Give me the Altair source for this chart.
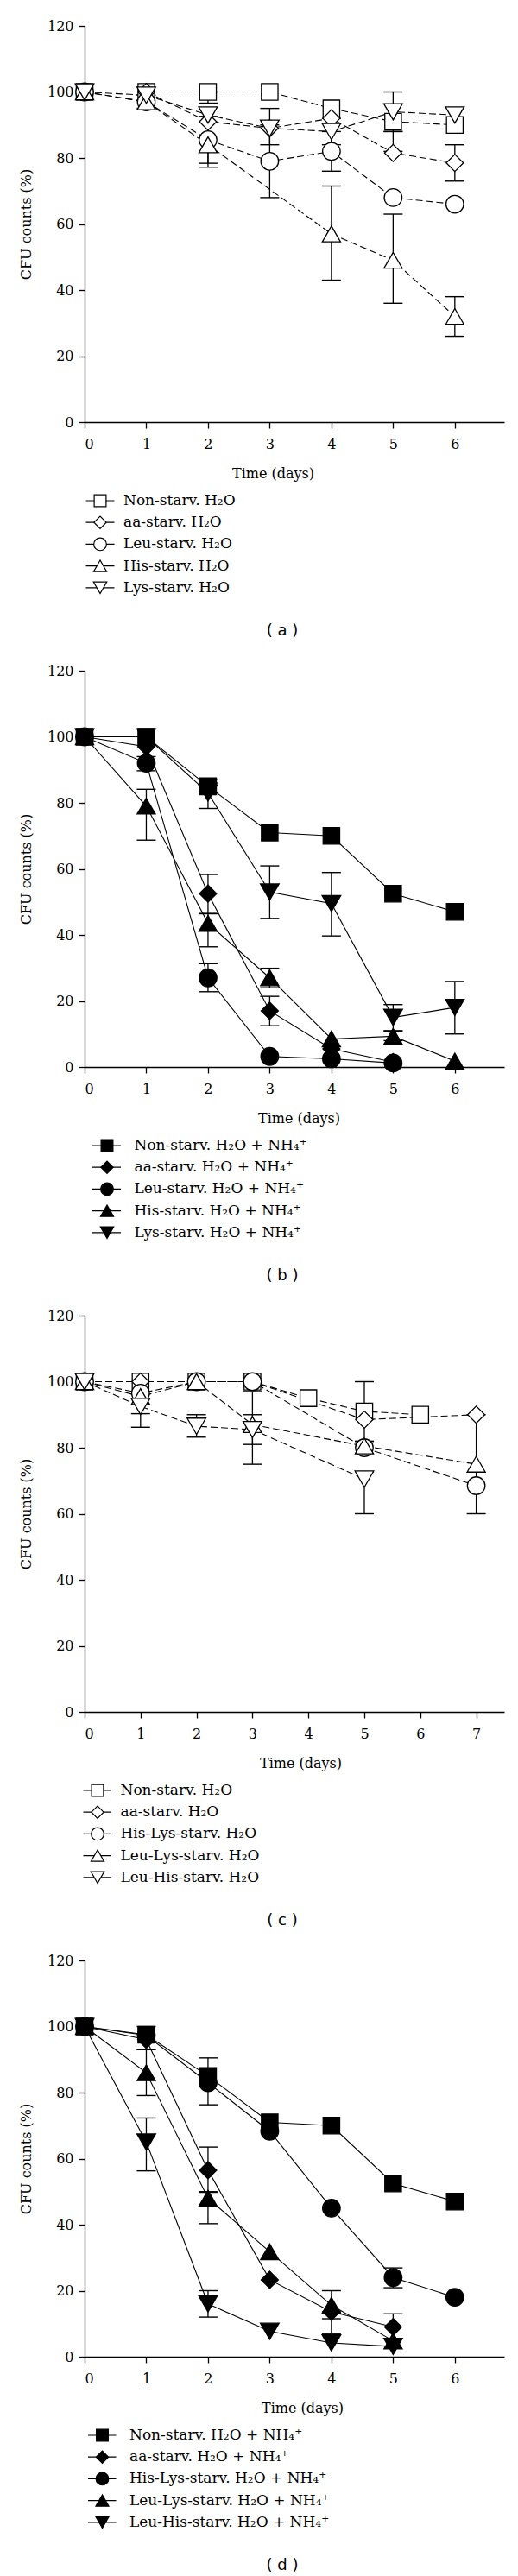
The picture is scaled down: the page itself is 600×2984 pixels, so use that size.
import altair as alt
import pandas as pd

# ---------------- data ----------------
SHAPES = ["square", "diamond", "circle", "triangle-up", "triangle-down"]

# Panel (a): water, single amino-acid starvation (days 0..6)
A_SERIES = ["Non-starv. H₂O", "aa-starv. H₂O", "Leu-starv. H₂O", "His-starv. H₂O", "Lys-starv. H₂O"]
A_NON = [100, 100, 100, 100, 95, 91, 90]
A_AA = [100, 100, 91, 89, 92, 81.5, 78.5]
A_LEU = [100, 97, 85.5, 79, 82, 68, 66]
A_HIS = [100, 97, 84, None, 57, 49, 32]
A_LYS = [100, 99, 93, 89, 88, 94, 93]
A_ERR = [  # (series index, day, low, high)
    (2, 1, 95, 99), (0, 2, 96.6, 100), (3, 2, 77.2, 90.8), (2, 2, 78.4, 92.6),
    (2, 3, 68, 90), (4, 3, 84, 95), (2, 4, 76, 88), (3, 4, 43, 71.5), (1, 4, 84, 92),
    (4, 5, 88, 100), (3, 5, 36, 63), (1, 5, 82, 88), (1, 6, 73, 84), (3, 6, 26, 38),
]

# Panel (b): water + NH4+, single amino-acid starvation (days 0..6)
B_SERIES = ["Non-starv. H₂O + NH₄⁺", "aa-starv. H₂O + NH₄⁺", "Leu-starv. H₂O + NH₄⁺",
            "His-starv. H₂O + NH₄⁺", "Lys-starv. H₂O + NH₄⁺"]
B_NON = [100, 100, 85, 71, 70, 52.5, 47]
B_AA = [100, 97, 52.5, 17, 5.5, 1.5, None]
B_LEU = [100, 92, 27, 3.2, 2.5, 1.2, None]
B_HIS = [100, 79, 43.5, 27, 8.5, 9.3, 1.8]
B_LYS = [100, 100, 83, 53, 49.5, 15, 18]
B_ERR = [
    (3, 1, 68.7, 84.1), (2, 1, 89.7, 94), (4, 2, 78.3, 86), (0, 2, 83, 87),
    (1, 2, 46.4, 58.3), (3, 2, 36.4, 46.5), (2, 2, 22.8, 31.3), (3, 3, 24, 29.9),
    (1, 3, 12.5, 21.4), (4, 3, 45, 60.9), (4, 4, 39.7, 58.9), (4, 5, 11, 18.9),
    (3, 5, 8, 10.9), (4, 6, 10, 25.9),
]

# Panel (c): water, double amino-acid starvation (days 0..7)
C_SERIES = ["Non-starv. H₂O", "aa-starv. H₂O", "His-Lys-starv. H₂O", "Leu-Lys-starv. H₂O",
            "Leu-His-starv. H₂O"]
C_NON = [100, 100, 100, 100, 95, 91, 90, None]
C_AA = [100, 100, 100, 100, None, 88.5, None, 90]
C_HISLYS = [100, 96.5, 100, 100, None, 80, None, 68.5]
C_LEULYS = [100, 95.5, 100, 87, None, 80.5, None, 75]
C_LEUHIS = [100, 92.5, 86.5, 85.5, None, 70.5, None, None]
C_ERR = [
    (4, 1, 86.2, 90.3), (4, 2, 83.2, 90), (4, 3, 75, 90), (3, 3, 81, 97),
    (0, 5, 82, 100), (4, 5, 60, 72.7), (2, 5, 78.3, 81.5), (2, 7, 60, 90),
]

# Panel (d): water + NH4+, double amino-acid starvation (days 0..6)
D_SERIES = ["Non-starv. H₂O + NH₄⁺", "aa-starv. H₂O + NH₄⁺", "His-Lys-starv. H₂O + NH₄⁺",
            "Leu-Lys-starv. H₂O + NH₄⁺", "Leu-His-starv. H₂O + NH₄⁺"]
D_NON = [100, 97.5, 85, 71, 70, 52.5, 47]
D_AA = [100, 96, 56.5, 23.3, 13.6, 9, None]
D_HISLYS = [100, 97.3, 83, 68.3, 45, 24, 18]
D_LEULYS = [100, 86, 48, 31.8, 15.6, 4.8, None]
D_LEUHIS = [100, 65, 16, 7.7, 4.2, 3.1, None]
D_ERR = [
    (2, 1, 93, 100), (3, 1, 79.1, 93), (4, 1, 56.3, 72.3), (2, 2, 76.3, 90.5),
    (1, 2, 50, 63.5), (3, 2, 40.3, 49.8), (4, 2, 12, 20), (3, 4, 11.5, 20),
    (1, 4, 7, 13.6), (1, 5, 5.4, 13), (2, 5, 20.9, 26.9),
]

CAPTIONS = ["( a )", "( b )", "( c )", "( d )"]
Y_TICKS = [0, 20, 40, 60, 80, 100, 120]

# ---------------- layout / style ----------------
PLOT_W, PLOT_H = 486, 459
BELOW_H = 287.5
ROW_STEP = 25.2
ROW0 = 91.0
CAPTION_OFF = 241.5
SERIF = "DejaVu Serif"
SIZES = [370, 470, 470, 520, 520]
LEG_SIZES = [190, 240, 230, 260, 260]


def panel_plot(series, values, errs, xmax, filled, dashed, title_x):
    rows = []
    for name, vals in zip(series, values):
        for d, v in enumerate(vals):
            if v is not None:
                rows.append({"series": name, "day": d, "cfu": v})
    df = pd.DataFrame(rows)
    edf = pd.DataFrame([{"series": series[i], "day": d, "lo": lo, "hi": hi} for i, d, lo, hi in errs])

    xscale = alt.Scale(domain=[0, xmax], nice=False, zero=False)
    yscale = alt.Scale(domain=[0, 120], nice=False)
    xaxis = alt.Axis(values=list(range(int(xmax) + 1)), title="Time (days)", titleX=title_x,
                     labelPadding=10, titlePadding=18, format="d")
    yaxis = alt.Axis(values=Y_TICKS, title="CFU counts (%)", labelPadding=6, titlePadding=16)

    line_kw = dict(color="black", strokeWidth=1.1)
    if dashed:
        line_kw["strokeDash"] = [8, 4]
    lines = alt.Chart(df).mark_line(**line_kw).encode(
        x=alt.X("day:Q", scale=xscale, axis=xaxis),
        y=alt.Y("cfu:Q", scale=yscale, axis=yaxis),
        detail="series:N", order="day:Q")
    bars = alt.Chart(edf).mark_rule(color="black", strokeWidth=1.3).encode(
        x=alt.X("day:Q", scale=xscale, axis=xaxis),
        y=alt.Y("lo:Q", scale=yscale, axis=yaxis), y2="hi:Q")
    cap_lo = alt.Chart(edf).mark_tick(orient="horizontal", size=22, thickness=1.4, color="black",
                                      opacity=1).encode(
        x=alt.X("day:Q", scale=xscale, axis=xaxis),
        y=alt.Y("lo:Q", scale=yscale, axis=yaxis))
    cap_hi = alt.Chart(edf).mark_tick(orient="horizontal", size=22, thickness=1.4, color="black",
                                      opacity=1).encode(
        x=alt.X("day:Q", scale=xscale, axis=xaxis),
        y=alt.Y("hi:Q", scale=yscale, axis=yaxis))
    pts = alt.Chart(df).mark_point(filled=True, opacity=1, stroke="black", strokeWidth=1.3,
                                   fill="black" if filled else "white").encode(
        x=alt.X("day:Q", scale=xscale, axis=xaxis),
        y=alt.Y("cfu:Q", scale=yscale, axis=yaxis),
        shape=alt.Shape("series:N", scale=alt.Scale(domain=series, range=SHAPES), legend=None),
        size=alt.Size("series:N", scale=alt.Scale(domain=series, range=SIZES), legend=None))
    return alt.layer(lines, bars, cap_lo, cap_hi, pts).properties(
        width=PLOT_W, height=PLOT_H,
        view=alt.ViewBackground(stroke="black", strokeWidth=1.3))


def panel_legend(series, caption, filled, line_x, sym_x, text_x, height):
    ldf = pd.DataFrame({"row": list(range(len(series))), "label": series, "series": series})
    ymin = -ROW0 / ROW_STEP
    ymax = (height - ROW0) / ROW_STEP
    yenc = alt.Y("row:Q", scale=alt.Scale(domain=[ymin, ymax], reverse=True, nice=False, zero=False),
                 axis=None)
    base = alt.Chart(ldf)
    seg = base.mark_rule(color="black", strokeWidth=1.2).encode(
        x=alt.value(line_x[0]), x2=alt.value(line_x[1]), y=yenc)
    sym = base.mark_point(filled=True, opacity=1, stroke="black", strokeWidth=1.2,
                          fill="black" if filled else "white").encode(
        x=alt.value(sym_x), y=yenc,
        shape=alt.Shape("series:N", scale=alt.Scale(domain=series, range=SHAPES), legend=None),
        size=alt.Size("series:N", scale=alt.Scale(domain=series, range=LEG_SIZES), legend=None))
    txt = base.mark_text(align="left", baseline="middle", font=SERIF, fontSize=17,
                         color="black").encode(x=alt.value(text_x), y=yenc, text="label:N")
    cdf = pd.DataFrame({"row": [(CAPTION_OFF - ROW0) / ROW_STEP], "label": [caption]})
    cap = alt.Chart(cdf).mark_text(align="center", baseline="middle", font="DejaVu Sans",
                                   fontSize=18, color="black").encode(
        x=alt.value(229), y=yenc, text="label:N")
    return alt.layer(seg, sym, txt, cap).properties(
        width=PLOT_W, height=height, view=alt.ViewBackground(strokeOpacity=0))


pa = panel_plot(A_SERIES, [A_NON, A_AA, A_LEU, A_HIS, A_LYS], A_ERR, 6.8, False, True, 218)
la = panel_legend(A_SERIES, CAPTIONS[0], False, (1.5, 34.5), 18, 45, BELOW_H)
pb = panel_plot(B_SERIES, [B_NON, B_AA, B_LEU, B_HIS, B_LYS], B_ERR, 6.8, True, False, 248)
lb = panel_legend(B_SERIES, CAPTIONS[1], True, (9, 42), 26, 57.5, BELOW_H)
pc = panel_plot(C_SERIES, [C_NON, C_AA, C_HISLYS, C_LEULYS, C_LEUHIS], C_ERR, 7.5, False, True, 250)
lc = panel_legend(C_SERIES, CAPTIONS[2], False, (-1.5, 31), 15, 41.5, BELOW_H)
pd_ = panel_plot(D_SERIES, [D_NON, D_AA, D_HISLYS, D_LEULYS, D_LEUHIS], D_ERR, 6.8, True, False, 252)
ld = panel_legend(D_SERIES, CAPTIONS[3], True, (4, 36.5), 20.5, 52, 252)

chart = alt.vconcat(pa, la, pb, lb, pc, lc, pd_, ld, spacing=0, bounds="flush").resolve_scale(
    x="independent", y="independent", shape="independent", size="independent"
).properties(
    padding={"left": 14, "top": 14, "right": 5, "bottom": 0},
    background="white",
).configure_axis(
    domainColor="black", domainWidth=1.3, tickColor="black", tickWidth=1.3, tickSize=7,
    labelFont=SERIF, labelFontSize=16, labelColor="black",
    titleFont=SERIF, titleFontSize=16, titleFontWeight="normal", titleColor="black", grid=False,
).configure_view(strokeOpacity=0)

chart.save("out.html", embed_options={"renderer": "svg", "actions": False})
